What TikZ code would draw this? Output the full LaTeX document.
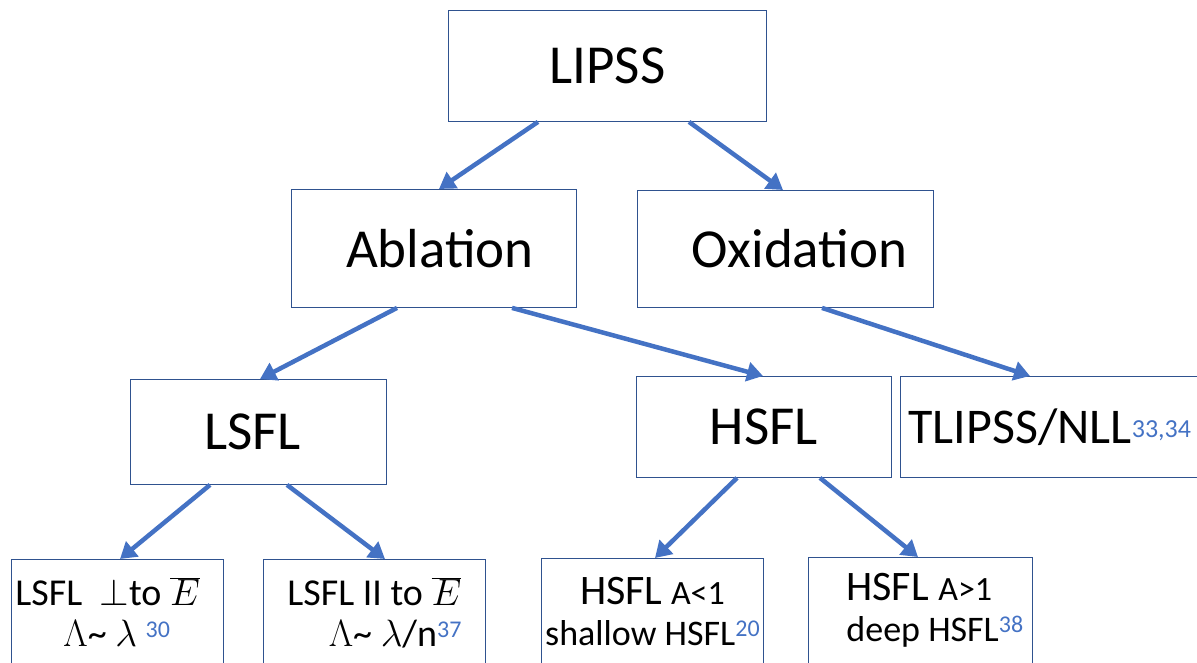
\RequirePackage{fix-cm}
\documentclass[tikz,border=0pt]{standalone}
\usepackage[no-math]{fontspec}
\setmainfont{Carlito}
\usetikzlibrary{arrows.meta}
\definecolor{arrowblue}{RGB}{68,114,196}
\definecolor{boxblue}{RGB}{47,82,143}
\newcommand{\refnum}[3]{\raisebox{#2pt}{\fontsize{#1}{#1}\selectfont\color{arrowblue}#3}}
\newcommand{\fs}[1]{\fontsize{#1}{41}\selectfont}
\newcommand{\plainspace}{\spaceskip=0pt\xspaceskip=0pt}
\begin{document}
\begin{tikzpicture}[x=1pt,y=-1pt,
  box/.style={draw=boxblue,line width=0.9pt,anchor=north west,inner sep=0pt},
  link/.style={draw=arrowblue,line width=4.5pt,-{Triangle[length=16pt,width=19pt]}},
  big/.style={font=\fontsize{55}{60}\selectfont},
  small/.style={font=\fontsize{38}{41}\selectfont}]
\useasboundingbox (0,0) rectangle (1197,663);
\node[box,big,minimum width=318,minimum height=111] (lipss) at (448,10) {LIPSS};
\node[box,big,minimum width=285,minimum height=118] (ablation) at (291,189) {\hspace*{12pt}Ablation};
\node[box,big,minimum width=296,minimum height=117] (oxidation) at (637,190) {\hspace*{28pt}Oxidation};
\node[box,big,minimum width=256,minimum height=105] (lsfl) at (130,379) {LSFL\hspace*{12pt}};
\node[box,big,minimum width=255,minimum height=101] (hsfl) at (636,376) {HSFL};
\node[box,font=\fontsize{50}{56}\selectfont,minimum height=101,text width=300pt,align=left,inner xsep=8pt] (tlipss) at (900,376)
  {TLIPSS/NLL\refnum{26}{6}{33,34}};
\node[box,small,minimum width=212,minimum height=106,text width=204pt,align=left] (perp) at (11,559)
  {\plainspace LSFL \ $\perp$to $\overline{E}$\\ \hspace*{48pt}$\Lambda$\textasciitilde{} $\lambda$ \refnum{24}{9}{30}};
\node[box,small,minimum width=222,minimum height=106,align=right] (para) at (263,559)
  {\plainspace LSFL II to $\overline{E}$\\ $\Lambda$\textasciitilde{} $\lambda$/n\refnum{24}{9}{37}};
\node[box,small,minimum width=222,minimum height=106,align=center] (shallow) at (541,558)
  {{\fs{42}HSFL} {\fs{34}A<1}\\ {\fs{36}shallow HSFL}\refnum{24}{9}{20}};
\node[box,small,minimum width=224,minimum height=106,text width=148pt,align=left] (deep) at (808,557)
  {\plainspace\mbox{\fs{42}HSFL {\fs{34}A>1}}\\ \mbox{\fs{36}deep HSFL\refnum{24}{9}{38}}};
\draw[link] ([xshift=90pt]lipss.south west) -- ([xshift=148pt]ablation.north west);
\draw[link] ([xshift=241pt]lipss.south west) -- ([xshift=146pt]oxidation.north west);
\draw[link] ([xshift=106pt]ablation.south west) -- ([xshift=130pt]lsfl.north west);
\draw[link] ([xshift=221pt]ablation.south west) -- ([xshift=127pt]hsfl.north west);
\draw[link] ([xshift=185pt]oxidation.south west) -- ([xshift=130pt]tlipss.north west);
\draw[link] ([xshift=80pt]lsfl.south west) -- ([xshift=109pt]perp.north west);
\draw[link] ([xshift=157pt]lsfl.south west) -- ([xshift=122pt]para.north west);
\draw[link] ([xshift=101pt]hsfl.south west) -- ([xshift=114pt]shallow.north west);
\draw[link] ([xshift=184pt]hsfl.south west) -- ([xshift=110pt]deep.north west);
\end{tikzpicture}
\end{document}
